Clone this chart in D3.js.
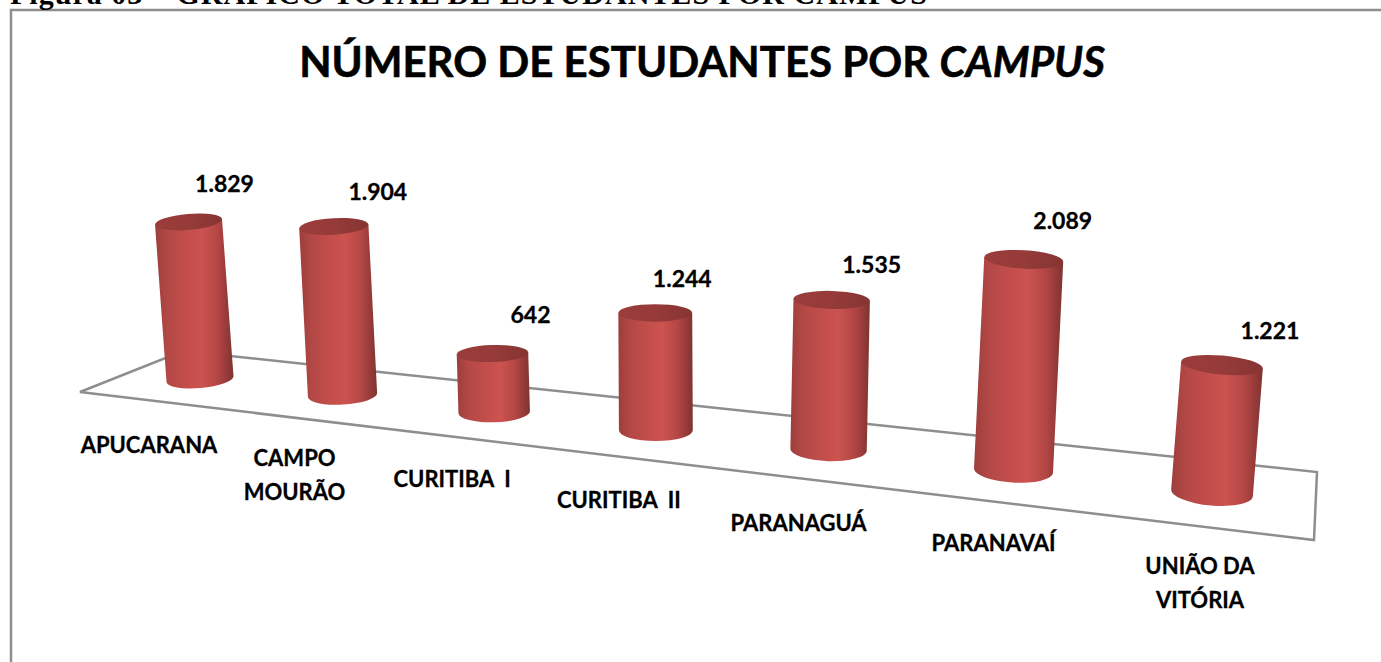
<!DOCTYPE html>
<html>
<head>
<meta charset="utf-8">
<script src="https://cdn.jsdelivr.net/npm/d3@7"></script>
<style>
  html, body { margin: 0; padding: 0; background: #fff; overflow: hidden; }
  svg { display: block; }
  text { white-space: pre; }
</style>
</head>
<body>
<svg id="chart" width="1381" height="662"></svg>
<script>
const categories = ['APUCARANA', 'CAMPO|MOURÃO', 'CURITIBA  I', 'CURITIBA  II', 'PARANAGUÁ', 'PARANAVAÍ', 'UNIÃO DA|VITÓRIA']
const students = [1829, 1904, 642, 1244, 1535, 2089, 1221]

// labels were moved by hand in the original, so each one has its own nudge
const valueNudge = [[36, -38], [44, -34], [38, -38], [27, -34], [40, -35], [39, -38], [48, -34]]
const categoryNudge = [[-51, 66], [-48, 80], [-42, 67], [-37, 70], [-30, 73], [-20, 72], [-12, 90]]
const floorCorners = [[80, 392], [183, 351], [1317, 472], [1314, 540]]

const width = 1381
const height = 662
const svg = d3.select('#chart')
const fontLabel = 'Lato, sans-serif'
const number = d3.formatLocale({ decimal: ',', thousands: '.', grouping: [3], currency: ['', ''] }).format(',')

// floor is seen in perspective: u runs along it, w is the near/far ratio
const w = 1.22
const slot = d3.scalePoint().domain(categories).range([0, 1])
const persp = u => u / (u + w * (1 - u))
const size = u => 1 / (u + w * (1 - u))

const baseX = d3.scaleLinear().domain([0, 1]).range([200, 1212])
const baseY = d3.scaleLinear().domain([0, 1]).range([379, 493])
const unit = d3.scaleLinear().domain([0, 1]).range([0, 0.1048])
const radius = d3.scaleLinear().domain([0, 1]).range([0, 41])
const lean = d3.scaleLinear().domain([0, 1]).range([-0.073, 0.078])
const tilt = d3.scaleLinear().domain([0, 1]).range([-5, 5])
const ryBase = d3.scaleLinear().domain([0, 1]).range([9, 12.5])
const ryTop = d3.scaleLinear().domain([0, 1]).range([8, 9.5])

const bars = categories.map((c, i) => {
  const u = slot(c)
  const x0 = baseX(persp(u))
  const y0 = baseY(persp(u))
  const h = students[i] * unit(size(u))
  const r = radius(size(u))
  return {
    name: c,
    value: students[i],
    i: i,
    x0: x0,
    y0: y0,
    x1: x0 + lean(persp(u)) * h,
    y1: y0 - h,
    r: r,
    angle: tilt(u),
    ry0: ryBase(u),
    ry1: ryTop(u)
  }
})

// side shading of the cylinders
const defs = svg.append('defs')
const sideGrad = defs.append('linearGradient').attr('id', 'side')
sideGrad.selectAll('stop')
  .data([[0, '#9c3e3c'], [0.16, '#b34846'], [0.42, '#c44e4b'], [0.6, '#cb5350'], [0.8, '#b34644'], [1, '#7f3331']])
  .enter().append('stop')
  .attr('offset', d => d[0])
  .attr('stop-color', d => d[1])
const topGrad = defs.append('linearGradient').attr('id', 'lid')
topGrad.selectAll('stop')
  .data([[0, '#9a3c3a'], [0.5, '#963b39'], [1, '#853533']])
  .enter().append('stop')
  .attr('offset', d => d[0])
  .attr('stop-color', d => d[1])

// page frame and the caption that is cut off by the top of the page
svg.append('path')
  .attr('d', `M11,${height}V10H${width}`)
  .attr('fill', 'none')
  .attr('stroke', '#8e8e8e')
  .attr('stroke-width', 2.5)

svg.append('text')
  .text('Figura 03 – GRÁFICO TOTAL DE ESTUDANTES POR CAMPUS')
  .attr('x', 10)
  .attr('y', 4)
  .attr('textLength', 917)
  .attr('font-family', '"Liberation Serif", serif')
  .attr('font-weight', 'bold')
  .attr('font-size', 30)

const title = svg.append('text')
  .attr('x', 702)
  .attr('y', 77)
  .attr('text-anchor', 'middle')
  .attr('font-family', fontLabel)
  .attr('font-weight', 'bold')
  .attr('font-size', 42)
  .attr('stroke', '#000')
  .attr('stroke-width', 0.6)
title.append('tspan').text('NÚMERO DE ESTUDANTES POR ')
title.append('tspan').text('CAMPUS').attr('font-style', 'italic')

svg.append('path')
  .attr('d', d3.line().curve(d3.curveLinearClosed)(floorCorners))
  .attr('fill', 'none')
  .attr('stroke', '#8e8e8e')
  .attr('stroke-width', 2.5)

const cylinder = svg.selectAll('g.bar')
  .data(bars)
  .enter()
  .append('g')
  .attr('class', 'bar')

const edge = (d, cx, cy, sign) => {
  const a = d.angle * Math.PI / 180
  return [cx + sign * d.r * Math.cos(a), cy + sign * d.r * Math.sin(a)]
}

cylinder.append('path')
  .attr('fill', 'url(#side)')
  .attr('d', d => {
    const tl = edge(d, d.x1, d.y1, -1)
    const tr = edge(d, d.x1, d.y1, 1)
    const bl = edge(d, d.x0, d.y0, -1)
    const br = edge(d, d.x0, d.y0, 1)
    return `M${tl}L${bl}A${d.r},${d.ry0} ${d.angle} 0 0 ${br}L${tr}Z`
  })

cylinder.append('ellipse')
  .attr('fill', 'url(#lid)')
  .attr('rx', d => d.r)
  .attr('ry', d => d.ry1)
  .attr('transform', d => `translate(${d.x1},${d.y1}) rotate(${d.angle})`)

svg.selectAll('text.value')
  .data(bars)
  .enter()
  .append('text')
  .attr('class', 'value')
  .text(d => number(d.value))
  .attr('x', d => d.x1 + valueNudge[d.i][0])
  .attr('y', d => d.y1 + valueNudge[d.i][1] + 8)
  .attr('text-anchor', 'middle')
  .attr('font-family', fontLabel)
  .attr('font-weight', 'bold')
  .attr('font-size', 23)
  .attr('stroke', '#000')
  .attr('stroke-width', 0.3)

const catLabel = svg.selectAll('text.category')
  .data(bars)
  .enter()
  .append('text')
  .attr('class', 'category')
  .attr('text-anchor', 'middle')
  .attr('font-family', fontLabel)
  .attr('font-weight', 'bold')
  .attr('font-size', 22)
  .attr('stroke', '#000')
  .attr('stroke-width', 0.3)

catLabel.each(function (d) {
  const lines = d.name.split('|')
  const cx = d.x0 + categoryNudge[d.i][0]
  const cy = d.y0 + categoryNudge[d.i][1]
  d3.select(this).selectAll('tspan')
    .data(lines)
    .enter()
    .append('tspan')
    .text(t => t)
    .attr('x', cx)
    .attr('y', (t, j) => cy + 8 + (j - (lines.length - 1) / 2) * 34)
})
</script>
</body>
</html>
